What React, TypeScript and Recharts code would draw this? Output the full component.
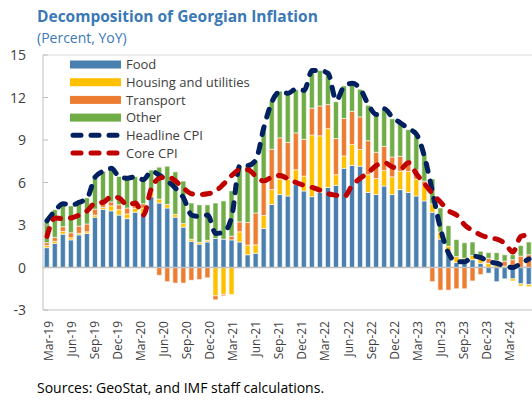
import React from 'react';
import { ComposedChart, Bar, Line, XAxis, YAxis, ReferenceLine } from 'recharts';

const months = [
  'Mar-19','Apr-19','May-19','Jun-19','Jul-19','Aug-19','Sep-19','Oct-19','Nov-19','Dec-19',
  'Jan-20','Feb-20','Mar-20','Apr-20','May-20','Jun-20','Jul-20','Aug-20','Sep-20','Oct-20',
  'Nov-20','Dec-20','Jan-21','Feb-21','Mar-21','Apr-21','May-21','Jun-21','Jul-21','Aug-21',
  'Sep-21','Oct-21','Nov-21','Dec-21','Jan-22','Feb-22','Mar-22','Apr-22','May-22','Jun-22',
  'Jul-22','Aug-22','Sep-22','Oct-22','Nov-22','Dec-22','Jan-23','Feb-23','Mar-23','Apr-23',
  'May-23','Jun-23','Jul-23','Aug-23','Sep-23','Oct-23','Nov-23','Dec-23','Jan-24','Feb-24','Mar-24',
];

const food = [
  1.4,1.7,2.35,1.95,2.3,2.4,3.55,4.1,4.0,3.7,
  3.45,3.9,3.75,5.0,4.55,4.2,3.55,2.85,1.85,1.65,
  1.8,2.05,2.0,1.95,1.8,0.9,1.0,2.75,4.45,5.15,
  5.05,5.85,5.4,5.0,5.3,5.65,5.8,7.0,7.2,7.15,
  5.3,5.15,5.75,5.15,5.5,5.3,5.05,4.7,3.9,2.0,
  1.05,0.35,0.3,0.55,0.3,-0.4,-1.0,-0.8,-0.8,-1.15,-1.2,
];
const housing = [
  0.15,0.15,0.2,0.15,0.12,0.12,0.15,0.15,0.35,0.38,
  0.33,0.28,0.45,0.28,0.28,0.25,0.2,0.25,0.15,0.12,
  0.12,-2.0,-1.9,-1.9,0.72,0.68,0.6,0.92,1.05,1.1,
  1.18,1.05,1.05,4.35,4.0,4.15,0.75,0.87,1.48,1.18,
  1.25,1.13,1.1,1.25,1.3,1.48,1.18,1.1,0.6,0.5,
  0.45,0.42,0.35,0.3,0.4,0.3,0.15,0.1,-0.15,-0.15,-0.15,
];
const transport = [
  0.2,0.28,0.33,0.35,0.5,0.55,0.42,0.38,0.28,0.35,
  0.42,0.28,0.3,0.1,-0.55,-1.0,-1.1,-1.1,-0.9,-0.85,
  -0.73,-0.28,-0.1,0.26,0.7,1.6,2.25,2.3,2.85,2.9,
  2.6,2.6,2.6,1.9,2.1,1.7,2.55,2.65,2.35,2.3,
  2.4,1.85,1.7,1.4,1.05,0.6,0.65,0.3,-1.0,-1.6,
  -1.6,-1.5,-1.5,-0.95,-0.5,0.35,0.35,0.35,0.55,0.8,0.9,
];
const other = [
  1.6,1.95,1.7,1.9,1.6,1.85,2.3,2.15,2.4,2.0,
  2.1,1.95,1.7,1.5,2.25,2.7,3.0,3.0,2.55,2.65,
  2.5,2.5,2.7,3.2,3.95,4.0,3.7,3.9,3.4,3.3,
  3.5,3.05,3.45,2.6,2.5,2.25,2.6,2.3,2.0,1.95,
  2.5,2.65,2.6,2.7,2.35,2.35,2.45,1.9,1.75,1.7,
  1.45,1.2,1.1,0.95,0.45,0.4,0.55,0.45,0.35,0.75,0.9,
];
const headline = [
  3.3,4.0,4.5,4.4,4.6,4.9,6.4,6.8,7.0,6.4,
  6.3,6.4,6.2,6.8,6.5,6.1,5.6,4.9,3.7,3.6,
  3.7,2.4,2.5,3.6,7.2,7.2,7.6,9.9,11.7,12.4,
  12.3,12.6,12.5,13.9,13.9,13.7,11.8,12.8,13.0,12.6,
  11.5,10.8,11.2,10.6,10.2,9.8,9.4,7.8,5.3,2.7,
  1.0,0.4,0.4,0.8,0.7,0.4,0.3,0.1,0.0,0.3,0.6,
];
const core = [
  2.2,3.5,3.45,3.5,3.7,4.0,4.55,4.6,5.0,4.9,
  4.4,4.55,3.7,5.6,6.3,6.4,6.1,5.6,5.2,5.15,
  5.2,5.4,5.9,6.5,6.9,6.9,6.45,6.1,6.4,6.5,
  6.25,6.0,5.8,5.65,5.45,5.2,5.1,5.0,5.8,6.3,
  6.7,7.2,7.4,7.1,6.95,7.4,6.6,5.9,5.2,4.6,
  4.0,3.7,3.0,2.6,2.3,2.1,2.0,1.7,1.1,2.2,2.3,
];

const yTicks = [15, 12, 9, 6, 3, 0, -3];
const xLabelTicks = [0, 3, 6, 9, 12, 15, 18, 21, 24, 27, 30, 33, 36, 39, 42, 45, 48, 51, 54, 57, 60];

const COLORS = {
  food: '#4a80b0',
  housing: '#ffc000',
  transport: '#ed7d31',
  other: '#70ad47',
  headline: '#002060',
  core: '#c00000',
};

const legendItems = [
  { name: 'Food', color: COLORS.food, kind: 'rect' },
  { name: 'Housing and utilities', color: COLORS.housing, kind: 'rect' },
  { name: 'Transport', color: COLORS.transport, kind: 'rect' },
  { name: 'Other', color: COLORS.other, kind: 'rect' },
  { name: 'Headline CPI', color: COLORS.headline, kind: 'line' },
  { name: 'Core CPI', color: COLORS.core, kind: 'line' },
];

const data = months.map((m, i) => ({
  month: m,
  idx: i,
  food: food[i],
  housing: housing[i],
  transport: transport[i],
  other: other[i],
  headline: headline[i],
  core: core[i],
}));

const FONT = '"Open Sans", "Noto Sans", sans-serif';

const YTick = (props: any) => {
  const { x, y, payload } = props;
  return (
    <g>
      <line x1={x} x2={x + 5} y1={y} y2={y} stroke="#bfbfbf" strokeWidth={1} />
      <text x={x - 17} y={y} dy="0.36em" textAnchor="end" fontSize={14} fill="#404040" fontFamily={FONT}>
        {String(payload.value)}
      </text>
    </g>
  );
};

const XTick = (props: any) => {
  const { x, y, payload } = props;
  const ty = y + 11;
  return (
    <text
      x={x}
      y={ty}
      transform={`rotate(-90 ${x} ${ty})`}
      textAnchor="end"
      dy="0.36em"
      fontSize={12}
      fill="#404040"
      fontFamily={FONT}
    >
      {months[payload.value]}
    </text>
  );
};

const LegendBox = () => (
  <svg width={200} height={106} style={{ display: 'block' }}>
    {legendItems.map((it, i) => {
      const cy = 8.5 + i * 17.7;
      return (
        <g key={it.name}>
          {it.kind === 'rect' ? (
            <rect x={0} y={cy - 4} width={51} height={8} fill={it.color} />
          ) : (
            <line
              x1={3}
              x2={49}
              y1={cy}
              y2={cy}
              stroke={it.color}
              strokeWidth={5}
              strokeDasharray="8 10"
              strokeLinecap="round"
            />
          )}
          <text x={56} y={cy} dy="0.36em" fontSize={13} fill="#404040" fontFamily={FONT}>
            {it.name}
          </text>
        </g>
      );
    })}
  </svg>
);

export default function App() {
  return (
    <div
      style={{
        position: 'absolute',
        left: 0,
        top: 0,
        width: 532,
        height: 400,
        overflow: 'hidden',
        background: '#ffffff',
        fontFamily: FONT,
      }}
    >
      <div style={{ position: 'absolute', left: 37, top: 5, fontSize: 15.5, fontWeight: 700, color: '#3a78b6', whiteSpace: 'nowrap' }}>
        Decomposition of Georgian Inflation
      </div>
      <div style={{ position: 'absolute', left: 37, top: 28, fontSize: 14, color: '#3a78b6', whiteSpace: 'nowrap' }}>
        (Percent, YoY)
      </div>
      <ComposedChart
        width={540}
        height={400}
        data={data}
        stackOffset="sign"
        barCategoryGap="16%"
        margin={{ top: 55, right: 7, bottom: 40, left: 0 }}
      >
        <XAxis xAxisId="cat" dataKey="month" hide height={0} />
        <XAxis
          xAxisId="lab"
          type="number"
          dataKey="idx"
          domain={[-0.689, 63.03]}
          allowDataOverflow
          ticks={xLabelTicks}
          interval={0}
          height={50}
          tickSize={0}
          tickMargin={0}
          tickLine={false}
          axisLine={{ stroke: '#bfbfbf', strokeWidth: 1 }}
          tick={<XTick />}
        />
        <YAxis
          domain={[-3, 15]}
          ticks={yTicks}
          interval={0}
          width={43}
          tickSize={0}
          tickMargin={0}
          tickLine={false}
          axisLine={{ stroke: '#bfbfbf', strokeWidth: 1 }}
          tick={<YTick />}
        />
        <ReferenceLine xAxisId="cat" y={15} stroke="#d9d9d9" strokeWidth={1} />
        <Bar xAxisId="cat" dataKey="food" stackId="s" fill={COLORS.food} stroke="#ffffff" strokeWidth={0.6} isAnimationActive={false} />
        <Bar xAxisId="cat" dataKey="housing" stackId="s" fill={COLORS.housing} stroke="#ffffff" strokeWidth={0.6} isAnimationActive={false} />
        <Bar xAxisId="cat" dataKey="transport" stackId="s" fill={COLORS.transport} stroke="#ffffff" strokeWidth={0.6} isAnimationActive={false} />
        <Bar xAxisId="cat" dataKey="other" stackId="s" fill={COLORS.other} stroke="#ffffff" strokeWidth={0.6} isAnimationActive={false} />
        <ReferenceLine xAxisId="cat" y={0} stroke="#bfbfbf" strokeWidth={1.5} />
        <Line
          xAxisId="cat"
          dataKey="headline"
          type="monotone"
          stroke={COLORS.headline}
          strokeWidth={5}
          strokeDasharray="8 10"
          strokeLinecap="round"
          dot={false}
          isAnimationActive={false}
        />
        <Line
          xAxisId="cat"
          dataKey="core"
          type="monotone"
          stroke={COLORS.core}
          strokeWidth={5}
          strokeDasharray="8 10"
          strokeLinecap="round"
          dot={false}
          isAnimationActive={false}
        />
      </ComposedChart>
      <div style={{ position: 'absolute', left: 70, top: 56, width: 200, height: 106 }}>
        <LegendBox />
      </div>
      <div style={{ position: 'absolute', left: 37, top: 378, fontSize: 14, color: '#000000', whiteSpace: 'nowrap' }}>
        Sources: GeoStat, and IMF staff calculations.
      </div>
    </div>
  );
}
